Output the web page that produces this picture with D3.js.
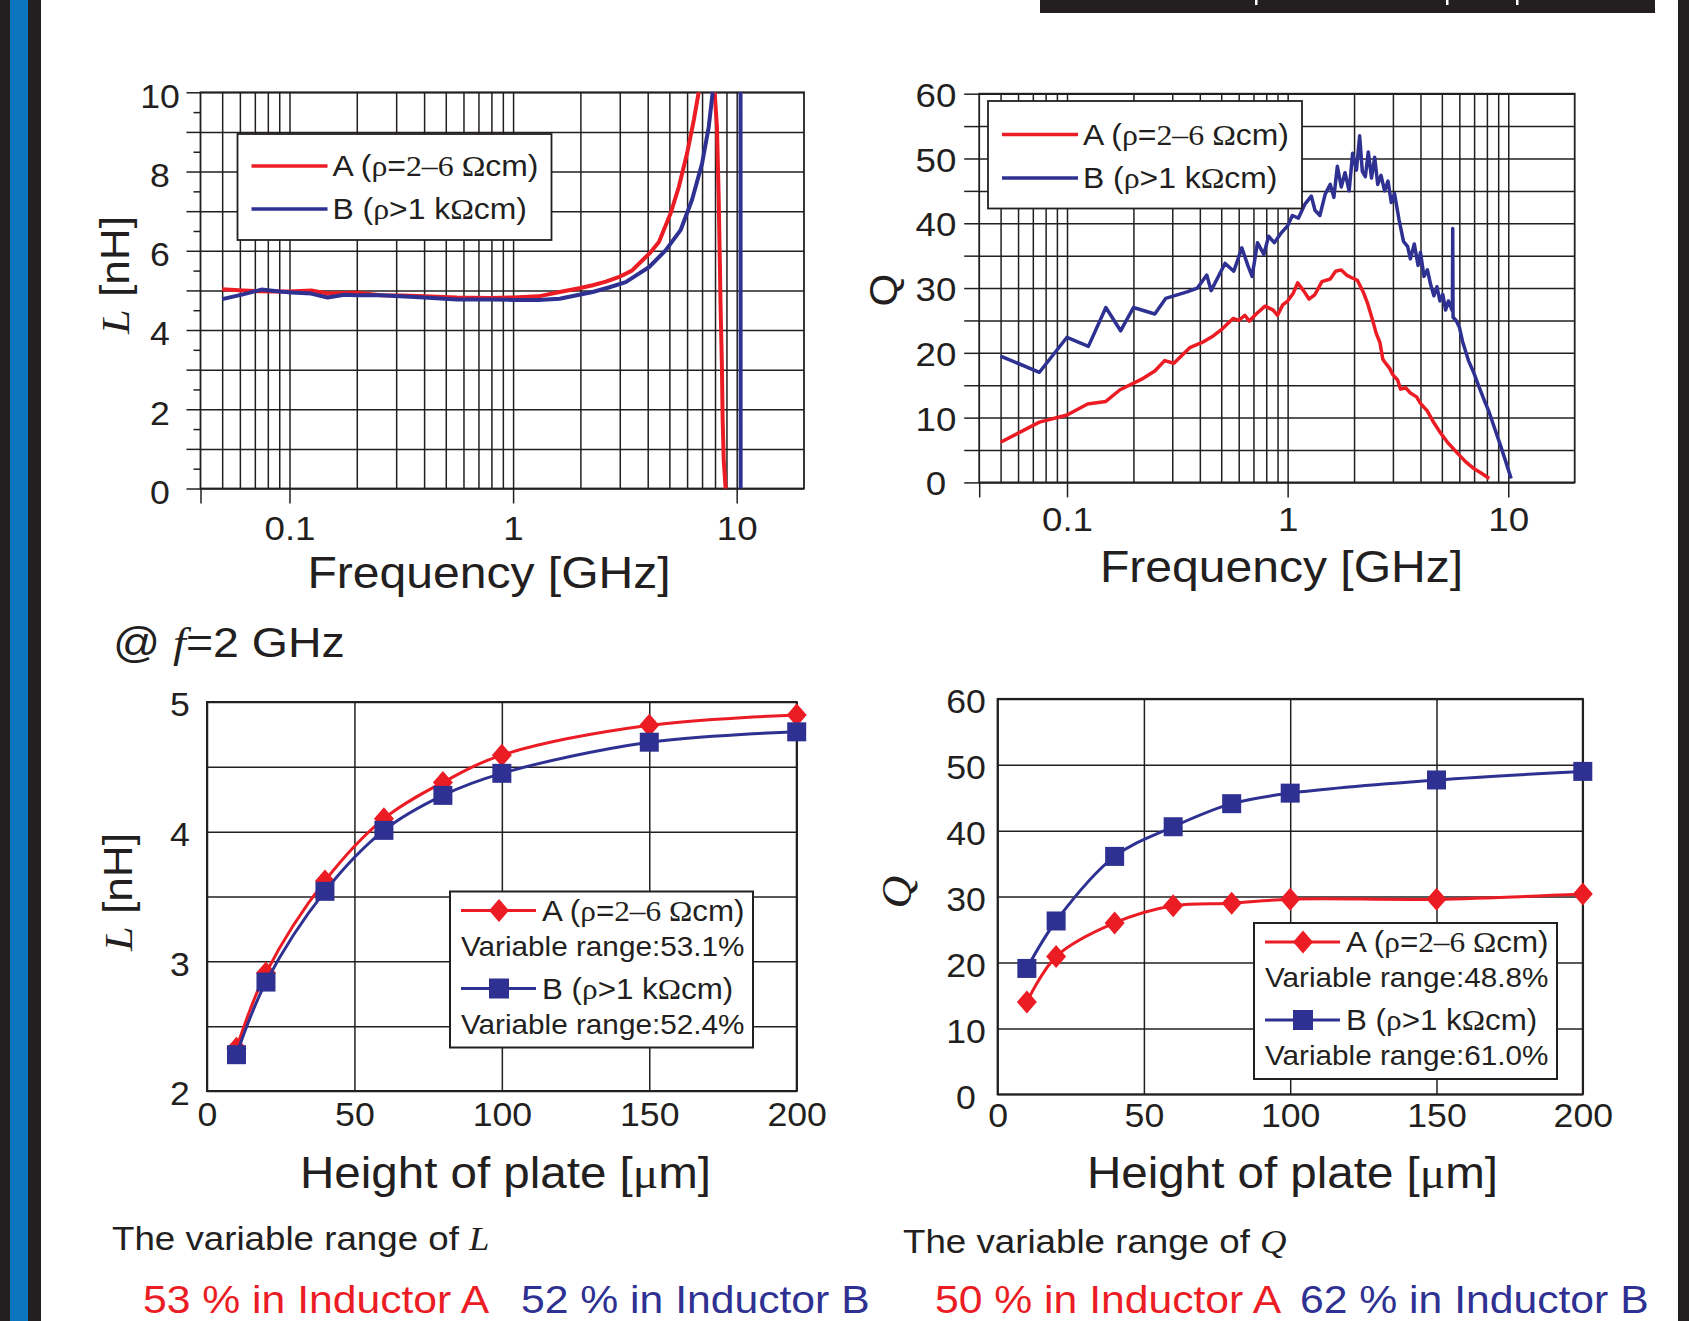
<!DOCTYPE html>
<meta charset="utf-8">
<html>
<head>
<script src="https://cdn.jsdelivr.net/npm/d3@7"></script>
<style>
body { margin: 0; background: #fff; }
svg text { font-family: "Liberation Sans", Arial, Helvetica, sans-serif; fill: #231f20; }
</style>
</head>
<body>
<script>

// ---- values --------------------------------------------------------------
var freqDomain = [0.04, 20];
var freqTicks  = [0.1, 1, 10];

// L [nH] vs frequency [GHz]
var lFreqA = [0.05, 0.062, 0.072, 0.085, 0.1, 0.125, 0.148, 0.2, 0.256, 0.32, 0.4, 0.56, 0.79, 1.0, 1.3,
              1.615, 2.0, 2.27, 2.6, 2.98, 3.4, 3.79, 4.1, 4.49, 5.06, 5.51, 6.0, 6.43, 6.76, 7.1,
              7.9, 7.97, 8.16, 8.3, 8.43, 8.46, 8.59, 8.65, 8.75, 8.92, 8.95];
var lValA  = [5.03, 5.0, 4.98, 4.97, 4.97, 5.0, 4.92, 4.94, 4.88, 4.87, 4.85, 4.82, 4.81, 4.82, 4.85,
              4.96, 5.06, 5.13, 5.22, 5.34, 5.5, 5.76, 5.95, 6.22, 6.94, 7.61, 8.46, 9.30, 10.0, 14,
              14, 10.0, 9.13, 7.45, 5.34, 4.75, 3.07, 1.8, 0.71, 0.03, -2];
var lFreqB = [0.05, 0.062, 0.075, 0.09, 0.102, 0.125, 0.148, 0.176, 0.2, 0.256, 0.4, 0.56, 0.79, 1.0, 1.3,
              1.615, 2.27, 2.7, 3.19, 4.06, 4.81, 5.61, 6.31, 7.0, 7.5, 7.81, 8.2, 10.4, 10.42];
var lValB  = [4.78, 4.9, 5.02, 4.97, 4.95, 4.92, 4.82, 4.89, 4.88, 4.88, 4.82, 4.77, 4.77, 4.76, 4.76,
              4.79, 4.96, 5.08, 5.21, 5.59, 6.01, 6.52, 7.28, 8.2, 9.13, 10.0, 14, 14, -3];
var lGrid   = [0, 1, 2, 3, 4, 5, 6, 7, 8, 9, 10];
var lLabels = [0, 2, 4, 6, 8, 10];
var lMinor  = [0.5, 1.5, 2.5, 3.5, 4.5, 5.5, 6.5, 7.5, 8.5, 9.5];

// Q vs frequency [GHz]
var qFreqA = [0.05, 0.075, 0.1, 0.124, 0.15, 0.174, 0.217, 0.25, 0.277, 0.305, 0.36, 0.41, 0.46, 0.506, 0.566,
              0.6, 0.64, 0.67, 0.72, 0.79, 0.86, 0.9, 0.95, 1.0, 1.06, 1.11, 1.18, 1.25, 1.33, 1.43,
              1.56, 1.65, 1.75, 1.85, 1.95, 2.07, 2.2, 2.31, 2.42, 2.52, 2.62, 2.7, 2.78, 2.9, 3.0,
              3.15, 3.25, 3.43, 3.6, 3.84, 4.0, 4.3, 4.6, 4.94, 5.3, 5.85, 6.4, 6.94, 7.5, 8.2];
var qValA  = [6.2, 9.3, 10.4, 12.1, 12.5, 14.3, 15.9, 17.2, 18.8, 18.4, 20.8, 21.6, 22.6, 23.7, 25.3,
              25.0, 25.8, 24.9, 26.0, 27.2, 26.6, 25.8, 27.4, 28.0, 29.2, 30.8, 29.6, 28.3, 29.0, 31.0,
              31.4, 32.6, 32.8, 32.0, 31.6, 31.2, 29.4, 27.5, 25.2, 23.0, 21.6, 19.0, 18.4, 17.6, 16.6,
              15.8, 14.4, 14.6, 13.8, 13.2, 12.2, 11.0, 9.2, 7.6, 6.2, 4.6, 3.2, 2.2, 1.5, 0.6];
var qFreqB = [0.05, 0.075, 0.1, 0.125, 0.15, 0.175, 0.2, 0.25, 0.28, 0.35, 0.39, 0.43, 0.45, 0.52, 0.57,
              0.62, 0.66, 0.69, 0.73, 0.78, 0.82, 0.87, 0.94, 1.0, 1.05, 1.12, 1.2, 1.28, 1.33, 1.4,
              1.48, 1.56, 1.62, 1.68, 1.75, 1.82, 1.9, 1.97, 2.05, 2.12, 2.18, 2.25, 2.32, 2.4, 2.48,
              2.56, 2.65, 2.75, 2.85, 2.95, 3.05, 3.2, 3.35, 3.5, 3.6, 3.75, 3.9, 4.0, 4.15, 4.3,
              4.45, 4.6, 4.75, 4.9, 5.05, 5.2, 5.35, 5.58, 5.6, 5.62, 5.8, 6.0, 6.2, 6.6, 7.0,
              7.4, 7.8, 8.2, 8.7, 9.2, 9.7, 10.3];
var qValB  = [19.5, 17.0, 22.4, 21.0, 27.0, 23.4, 27.0, 26.0, 28.4, 29.4, 30.0, 32.0, 29.6, 33.8, 32.6,
              36.2, 33.5, 31.8, 37.0, 35.2, 38.0, 37.0, 38.6, 39.6, 41.2, 40.8, 43.0, 44.2, 42.0, 41.2,
              44.5, 46.0, 44.0, 48.8, 45.6, 47.8, 45.0, 50.8, 48.2, 53.5, 48.0, 47.2, 51.0, 47.0, 50.2,
              46.0, 47.4, 45.0, 46.5, 43.2, 44.6, 40.5, 37.2, 36.4, 34.5, 36.8, 33.5, 35.5, 31.8, 32.8,
              30.5, 28.8, 30.2, 28.0, 29.0, 26.6, 28.0, 26.5, 39.2, 25.5, 25.0, 24.0, 21.8, 18.8, 16.8,
              14.6, 12.6, 10.8, 8.2, 5.8, 3.4, 0.6];
var qGrid   = [0, 5, 10, 15, 20, 25, 30, 35, 40, 45, 50, 55, 60];
var qLabels = [0, 10, 20, 30, 40, 50, 60];

// values at f = 2 GHz vs height of plate [um]
var heights     = [10, 20, 40, 60, 80, 100, 150, 200];
var heightTicks = [0, 50, 100, 150, 200];
var lPlateA = [2.33, 2.91, 3.62, 4.10, 4.38, 4.59, 4.82, 4.90];
var lPlateB = [2.28, 2.84, 3.54, 4.01, 4.28, 4.45, 4.69, 4.77];
var lPlateGrid   = [2, 2.5, 3, 3.5, 4, 4.5, 5];
var lPlateLabels = [2, 3, 4, 5];
var qPlateA = [14.0, 20.9, 26.0, 28.6, 29.0, 29.6, 29.6, 30.4];
var qPlateB = [19.1, 26.3, 36.1, 40.6, 44.1, 45.7, 47.7, 49.0];
var qPlateGrid = [0, 10, 20, 30, 40, 50, 60];

var rangeLA = "53.1%", rangeLB = "52.4%";
var rangeQA = "48.8%", rangeQB = "61.0%";

// ---- page ---------------------------------------------------------------
var red = "#ec1c24", blue = "#2e3192", ink = "#231f20";
var serif = "'Liberation Serif', 'Times New Roman', serif";
var SX = 1.08;   // the lettering of the figure is a bit wider than Liberation Sans

var svg = d3.select("body").append("svg")
  .attr("width", 1689)
  .attr("height", 1321);
var defs = svg.append("defs");

svg.append("rect").attr("width", 1689).attr("height", 1321).style("fill", "#fff");
// slide border strips
svg.append("rect").attr("x", 0).attr("width", 41).attr("height", 1321).style("fill", ink);
svg.append("rect").attr("x", 10).attr("width", 18).attr("height", 1321).style("fill", "#0b76be");
svg.append("rect").attr("x", 1678).attr("width", 11).attr("height", 1321).style("fill", ink);
svg.append("rect").attr("x", 1040).attr("width", 615).attr("height", 13).style("fill", ink);
[1256, 1447, 1517].forEach(function(d) {
  svg.append("rect").attr("x", d - 1).attr("width", 2.5).attr("height", 5).style("fill", "#fff");
});

// text made of sans / serif / italic serif runs, placed at (x,y), optionally rotated
function rich(g, parts, size, x, y, rot) {
  var t = g.append("text").style("font-size", size + "px")
    .attr("transform", "translate(" + x + "," + y + ")" + (rot ? " rotate(-90)" : "") + " scale(" + SX + ",1)");
  parts.forEach(function(p) {
    var s = t.append("tspan").text(p[0]);
    if (p[1]) s.style("font-family", serif);
    if (p[1] == "i") s.style("font-style", "italic");
  });
  return t;
}

var rhoA = [["A ("], ["ρ", "s"], ["="], ["2–6 Ω", "s"], ["cm)"]];
var rhoB = [["B ("], ["ρ", "s"], [">1 k"], ["Ω", "s"], ["cm)"]];

function styleAxis(sel, fontSize) {
  sel.attr("color", ink).attr("font-size", fontSize);
  sel.selectAll("line").attr("stroke-width", 1.5);
  sel.select(".domain").remove();
  sel.selectAll("text").attr("transform", "scale(" + SX + ",1)");
}

// left tick labels centred on a column
function centreLabels(ax, offset, dy) {
  ax.selectAll("text")
    .attr("text-anchor", "middle")
    .attr("x", offset / SX)
    .attr("dy", dy);
}

// ---- frequency panels (log x) --------------------------------------------
var freqGrid = [];
[0.01, 0.1, 1].forEach(function(dec) {
  for (var k = 1; k < 10; k++) freqGrid.push(+(dec * k).toPrecision(2));
});
freqGrid.push(10);
freqGrid = freqGrid.filter(function(d) { return d >= 0.05; });

function freqPanel(o) {
  var g = svg.append("g");
  var w = o.right - o.left, h = o.bottom - o.top;
  var x = d3.scaleLog().domain(freqDomain).range([o.left, o.right]);
  var y = d3.scaleLinear().domain(o.yDomain).range([o.bottom, o.top]);

  g.append("g").attr("transform", "translate(0," + o.bottom + ")")
    .call(d3.axisBottom(x).tickValues(freqGrid).tickSize(-h).tickFormat(""))
    .call(styleAxis, 10);
  g.append("g").attr("transform", "translate(" + o.left + ",0)")
    .call(d3.axisLeft(y).tickValues(o.grid).tickSize(-w).tickFormat(""))
    .call(styleAxis, 10);

  // outer ticks + labels
  var yAx = g.append("g").attr("transform", "translate(" + o.left + ",0)")
    .call(d3.axisLeft(y).tickValues(o.grid).tickSize(o.tickLen)
      .tickFormat(function(d) { return o.labels.indexOf(d) >= 0 ? d : ""; }))
    .call(styleAxis, o.yFont);
  centreLabels(yAx, o.labelX - o.left, o.dyY);
  if (o.minor) {
    g.append("g").attr("transform", "translate(" + o.left + ",0)")
      .call(d3.axisLeft(y).tickValues(o.minor).tickSize(7).tickFormat(""))
      .call(styleAxis, 10);
  }
  g.append("g").attr("transform", "translate(0," + o.bottom + ")")
    .call(d3.axisBottom(x).tickValues([freqDomain[0]].concat(freqTicks)).tickSize(15).tickPadding(o.padX)
      .tickFormat(function(d) { return freqTicks.indexOf(d) >= 0 ? d3.format("~g")(d) : ""; }))
    .call(styleAxis, 34);

  g.append("rect")
    .attr("x", o.left).attr("y", o.top).attr("width", w).attr("height", h)
    .style("fill", "none").style("stroke", ink).style("stroke-width", 1.8);

  defs.append("clipPath").attr("id", o.id)
    .append("rect").attr("x", o.left).attr("y", o.top).attr("width", w).attr("height", h);

  var line = d3.line()
    .x(function(d) { return x(d[0]); })
    .y(function(d) { return y(d[1]); });
  o.series.forEach(function(s) {
    g.append("path")
      .datum(d3.zip(s.f, s.v))
      .attr("clip-path", "url(#" + o.id + ")")
      .attr("d", line)
      .style("fill", "none").style("stroke", s.color)
      .style("stroke-width", o.lineW).style("stroke-linejoin", "round");
  });

  // legend
  var L = o.legend;
  g.append("rect").attr("x", L.x).attr("y", L.y).attr("width", L.w).attr("height", L.h)
    .style("fill", "#fff").style("stroke", ink).style("stroke-width", 1.8);
  o.series.forEach(function(s, i) {
    var ly = L.y + L.row0 + i * L.step;
    g.append("line").attr("x1", L.x + 14).attr("x2", L.x + 90).attr("y1", ly).attr("y2", ly)
      .style("stroke", s.color).style("stroke-width", 3.5);
    rich(g, s.label, 29.5, L.x + 95, ly + 10);
  });

  // axis titles
  rich(g, [["Frequency [GHz]"]], 44.5, o.xTitle[0], o.xTitle[1]).attr("text-anchor", "middle");
  rich(g, o.yTitle, o.yTitleSize, o.yTitlePos[0], o.yTitlePos[1], true).attr("text-anchor", "middle");
}

freqPanel({
  id: "clipL", left: 200.5, right: 804, top: 92.3, bottom: 488.5,
  yDomain: [0, 10], grid: lGrid, labels: lLabels, minor: lMinor,
  tickLen: 14, labelX: 160, yFont: 33, dyY: "0.45em", padX: 12, lineW: 4,
  series: [
    { f: lFreqA, v: lValA, color: red,  label: rhoA },
    { f: lFreqB, v: lValB, color: blue, label: rhoB }
  ],
  legend: { x: 237.5, y: 134, w: 314, h: 106, row0: 32, step: 43 },
  xTitle: [489, 588],
  yTitle: [["L", "i"], [" [nH]"]], yTitleSize: 41, yTitlePos: [129, 275]
});

freqPanel({
  id: "clipQ", left: 979.2, right: 1574.7, top: 93.7, bottom: 482.4,
  yDomain: [0, 60], grid: qGrid, labels: qLabels, minor: null,
  tickLen: 15, labelX: 936, yFont: 34, dyY: "0.37em", padX: 9, lineW: 3.5,
  series: [
    { f: qFreqA, v: qValA, color: red,  label: rhoA },
    { f: qFreqB, v: qValB, color: blue, label: rhoB }
  ],
  legend: { x: 988, y: 101, w: 314, h: 107.5, row0: 33.5, step: 43.5 },
  xTitle: [1281.5, 582],
  yTitle: [["Q"]], yTitleSize: 39, yTitlePos: [897, 290]
});

// ---- height-of-plate panels (linear x) ----------------------------------
var diamond = "M0,-11.5L10,0L0,11.5L-10,0Z";

function platePanel(o) {
  var g = svg.append("g");
  var w = o.right - o.left, h = o.bottom - o.top;
  var x = d3.scaleLinear().domain([0, 200]).range([o.left, o.right]);
  var y = d3.scaleLinear().domain(o.yDomain).range([o.bottom, o.top]);

  g.append("g").attr("transform", "translate(0," + o.bottom + ")")
    .call(d3.axisBottom(x).tickValues(heightTicks).tickSize(-h).tickFormat(""))
    .call(styleAxis, 10);
  g.append("g").attr("transform", "translate(" + o.left + ",0)")
    .call(d3.axisLeft(y).tickValues(o.grid).tickSize(-w).tickFormat(""))
    .call(styleAxis, 10);
  var yAx = g.append("g").attr("transform", "translate(" + o.left + ",0)")
    .call(d3.axisLeft(y).tickValues(o.labels).tickSize(0).tickFormat(d3.format("~g")))
    .call(styleAxis, 33);
  centreLabels(yAx, o.labelX - o.left, "0.42em");
  g.append("g").attr("transform", "translate(0," + o.bottom + ")")
    .call(d3.axisBottom(x).tickValues(heightTicks).tickSize(0).tickPadding(o.padX))
    .call(styleAxis, 33);

  g.append("rect")
    .attr("x", o.left).attr("y", o.top).attr("width", w).attr("height", h)
    .style("fill", "none").style("stroke", ink).style("stroke-width", 2);

  var line = d3.line()
    .curve(d3.curveCatmullRom.alpha(0.5))
    .x(function(d) { return x(d[0]); })
    .y(function(d) { return y(d[1]); });

  o.series.forEach(function(s) {
    var pts = d3.zip(heights, s.v);
    g.append("path").datum(pts).attr("d", line)
      .style("fill", "none").style("stroke", s.color).style("stroke-width", 3);
    var m = g.selectAll(null).data(pts).enter().append("g")
      .attr("transform", function(d) { return "translate(" + x(d[0]) + "," + y(d[1]) + ")"; });
    if (s.marker == "diamond") m.append("path").attr("d", diamond).style("fill", s.color);
    else m.append("rect").attr("x", -9.5).attr("y", -9.5).attr("width", 19).attr("height", 19).style("fill", s.color);
  });

  // legend
  var L = o.legend;
  g.append("rect").attr("x", L.x).attr("y", L.y).attr("width", 303).attr("height", 156)
    .style("fill", "#fff").style("stroke", ink).style("stroke-width", 2);
  o.series.forEach(function(s, i) {
    var ly = L.y + 19 + i * 78;
    g.append("line").attr("x1", L.x + 11).attr("x2", L.x + 86).attr("y1", ly).attr("y2", ly)
      .style("stroke", s.color).style("stroke-width", 3);
    if (s.marker == "diamond") {
      g.append("path").attr("d", diamond).attr("transform", "translate(" + (L.x + 49) + "," + ly + ")").style("fill", s.color);
    } else {
      g.append("rect").attr("x", L.x + 39).attr("y", ly - 10).attr("width", 20).attr("height", 20).style("fill", s.color);
    }
    rich(g, s.label, 29, L.x + 92, ly + 10);
    rich(g, [["Variable range:" + s.range]], 27.5, L.x + 11, ly + 45);
  });

  rich(g, [["Height of plate ["], ["μ", "s"], ["m]"]], 44, o.xTitle, 1188).attr("text-anchor", "middle");
  rich(g, o.yTitle, o.yTitleSize, o.yTitlePos[0], o.yTitlePos[1], true).attr("text-anchor", "middle");
}

platePanel({
  left: 207, right: 796.7, top: 702, bottom: 1091,
  yDomain: [2, 5], grid: lPlateGrid, labels: lPlateLabels, labelX: 180, padX: 12,
  series: [
    { v: lPlateA, color: red,  marker: "diamond", label: rhoA, range: rangeLA },
    { v: lPlateB, color: blue, marker: "square",  label: rhoB, range: rangeLB }
  ],
  legend: { x: 450, y: 891.5 },
  xTitle: 505.5,
  yTitle: [["L", "i"], [" [nH]"]], yTitleSize: 41, yTitlePos: [132, 892]
});

platePanel({
  left: 997.6, right: 1582.8, top: 698.9, bottom: 1094.3,
  yDomain: [0, 60], grid: qPlateGrid, labels: qPlateGrid, labelX: 966, padX: 9,
  series: [
    { v: qPlateA, color: red,  marker: "diamond", label: rhoA, range: rangeQA },
    { v: qPlateB, color: blue, marker: "square",  label: rhoB, range: rangeQB }
  ],
  legend: { x: 1254, y: 923 },
  xTitle: 1292.5,
  yTitle: [["Q", "i"]], yTitleSize: 42, yTitlePos: [911, 892]
});

// ---- captions -----------------------------------------------------------
rich(svg, [["@ "], ["f", "i"], ["=2 GHz"]], 43, 113, 657);
rich(svg, [["The variable range of "], ["L", "i"]], 34, 112, 1250);
rich(svg, [["The variable range of "], ["Q", "i"]], 34, 903, 1253);

rich(svg, [["53 % in Inductor A"]], 39.5, 143, 1313).style("fill", red);
rich(svg, [["52 % in Inductor B"]], 39.5, 521, 1313).style("fill", blue);
rich(svg, [["50 % in Inductor A"]], 39.5, 935, 1313).style("fill", red);
rich(svg, [["62 % in Inductor B"]], 39.5, 1300, 1313).style("fill", blue);
</script>
</body>
</html>
